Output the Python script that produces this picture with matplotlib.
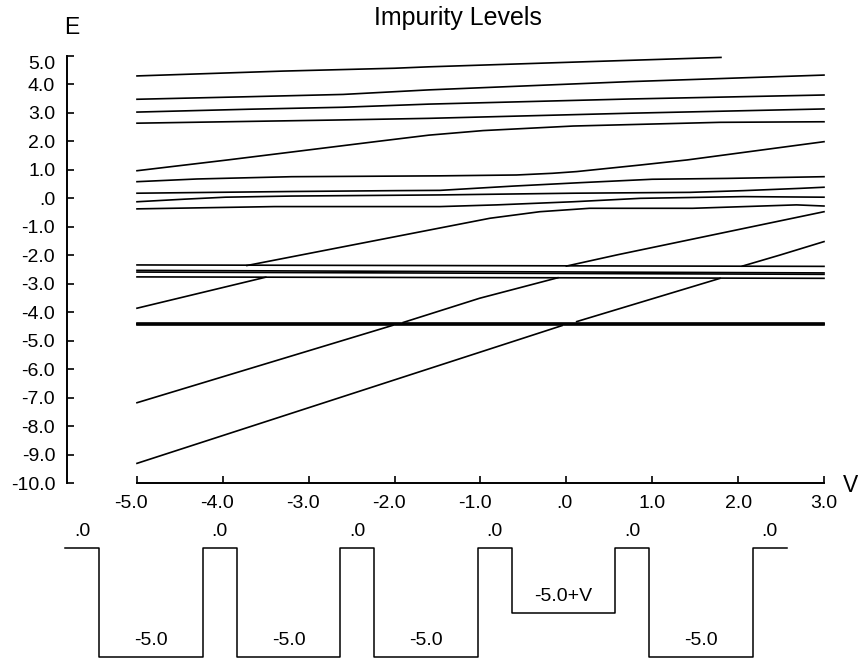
import numpy as np
import matplotlib
matplotlib.use("Agg")
import matplotlib.pyplot as plt
from matplotlib.ticker import FuncFormatter
from matplotlib.transforms import ScaledTranslation

plt.rcParams['font.family'] = ['Liberation Sans', 'DejaVu Sans']

# impurity levels E(V) (V, E)
lvl_a_v = [-5.0, -3.3, -2.0, -1.6, 0.24, 1.8]
lvl_a_e = [4.30, 4.47, 4.57, 4.62, 4.80, 4.95]
lvl_b_v = [-5.0, -3.7, -2.6, -1.6, 0.74, 3.0]
lvl_b_e = [3.48, 3.57, 3.65, 3.81, 4.10, 4.33]
lvl_c_v = [-5.0, -3.7, -2.6, -1.6, 0.74, 3.0]
lvl_c_e = [3.03, 3.13, 3.20, 3.31, 3.49, 3.63]
lvl_d_v = [-5.0, -2.7, -1.6, 0.74, 3.0]
lvl_d_e = [2.64, 2.75, 2.81, 2.99, 3.14]
lvl_r1_v = [-5.0, -3.94, -2.2, -1.6, -0.97, 0.08, 1.79, 3.0]
lvl_r1_e = [0.97, 1.35, 2.0, 2.22, 2.38, 2.54, 2.67, 2.69]

lvl_e1_v = [-5.0, -4.3, -3.2, -1.47, -0.58, -0.16, 0.12, 0.86, 1.41, 3.0]
lvl_e1_e = [0.585, 0.68, 0.76, 0.79, 0.82, 0.88, 0.94, 1.17, 1.35, 1.99]
lvl_e2_v = [-5.0, -3.2, -2.0, -1.47, -0.62, 0.16, 1.0, 1.87, 3.0]
lvl_e2_e = [0.18, 0.24, 0.27, 0.28, 0.43, 0.55, 0.67, 0.70, 0.76]
lvl_e3_v = [-5.0, -4.45, -3.97, -3.2, -1.47, 0.08, 1.44, 2.06, 2.72, 3.0]
lvl_e3_e = [-0.12, -0.03, 0.04, 0.08, 0.12, 0.18, 0.21, 0.27, 0.35, 0.39]
lvl_e4_v = [-5.0, -3.4, -1.47, -0.81, 0.08, 0.86, 2.06, 3.0]
lvl_e4_e = [-0.37, -0.29, -0.29, -0.23, -0.12, 0.0, 0.06, 0.04]

# band near -2.6
band2_v = [-5.0, 3.0]
band2_e = [[-2.34, -2.39], [-2.53, -2.62], [-2.59, -2.67], [-2.76, -2.81]]
# band near -4.4
band1_v = [-5.0, 3.0]
band1_e = [[-4.37, -4.37], [-4.40, -4.40], [-4.43, -4.43], [-4.46, -4.46]]

# rising levels of the shifted well, split where they pass the bands
r3_low_v = [-5.0, -3.5]
r3_low_e = [-3.86, -2.77]
r3_up_v = [-3.72, -0.89, -0.31, 0.27, 1.47, 2.68, 3.0]
r3_up_e = [-2.36, -0.70, -0.47, -0.35, -0.35, -0.23, -0.27]
r4_low_v = [-5.0, -2.02]
r4_low_e = [-7.18, -4.46]
r4_mid_v = [-1.9, -1.01, -0.1]
r4_mid_e = [-4.36, -3.51, -2.79]
r4_up_v = [0.0, 0.6, 3.0]
r4_up_e = [-2.38, -1.98, -0.47]
r5_low_v = [-5.0, -0.05]
r5_low_e = [-9.31, -4.47]
r5_mid_v = [0.12, 1.79]
r5_mid_e = [-4.33, -2.81]
r5_up_v = [2.05, 2.49, 3.0]
r5_up_e = [-2.38, -1.99, -1.52]

curves = [
    (lvl_a_v, lvl_a_e), (lvl_b_v, lvl_b_e), (lvl_c_v, lvl_c_e),
    (lvl_d_v, lvl_d_e), (lvl_r1_v, lvl_r1_e),
    (lvl_e1_v, lvl_e1_e), (lvl_e2_v, lvl_e2_e),
    (lvl_e3_v, lvl_e3_e), (lvl_e4_v, lvl_e4_e),
    (r3_low_v, r3_low_e), (r3_up_v, r3_up_e),
    (r4_low_v, r4_low_e), (r4_mid_v, r4_mid_e), (r4_up_v, r4_up_e),
    (r5_low_v, r5_low_e), (r5_mid_v, r5_mid_e), (r5_up_v, r5_up_e),
]
curves += [(band2_v, e) for e in band2_e]
curves += [(band1_v, e) for e in band1_e]

y_ticks = np.arange(-10, 6, 1)
x_ticks = np.arange(-5, 4, 1)

# potential sketch below the chart
barrier_level = 0.0
v_sketch = 2.0
well_levels = [-5.0, -5.0, -5.0, -5.0 + v_sketch, -5.0]
well_labels = ['-5.0', '-5.0', '-5.0', '-5.0+V', '-5.0']
barrier_w = 1.0
well_w = 3.0


def fmt(v, pos):
    s = f"{v:.1f}"
    if s in ("0.0", "-0.0"):
        return ".0"
    return s


def nudge(lab, dx, dy):
    lab.set_transform(lab.get_transform()
                      + ScaledTranslation(dx / 100, dy / 100, fig.dpi_scale_trans))


fig = plt.figure(figsize=(8.58, 6.59), dpi=100)
ax = fig.add_axes([67 / 858, 176 / 659, 757 / 858, 427 / 659])

for v, e in curves:
    ax.plot(v, e, color='black', lw=1.2, clip_on=False)

ax.set_xlim(-5.815, 3.0)
ax.set_ylim(-10, 5)
ax.spines['top'].set_visible(False)
ax.spines['right'].set_visible(False)
ax.spines['left'].set_linewidth(1.4)
ax.spines['bottom'].set_linewidth(1.4)
ax.spines['bottom'].set_bounds(-5, 3)
ax.set_xticks(x_ticks)
ax.set_yticks(y_ticks)
ax.xaxis.set_major_formatter(FuncFormatter(fmt))
ax.yaxis.set_major_formatter(FuncFormatter(fmt))
ax.tick_params(axis='both', direction='in', labelsize=14, pad=8.5,
               width=1.2, length=5)

# labels in the original sit a little off their ticks
for val, lab in zip(y_ticks, ax.get_yticklabels()):
    if val == y_ticks.max():
        nudge(lab, 0, -6)
for val, lab in zip(x_ticks, ax.get_xticklabels()):
    nudge(lab, -6 if val < 0 else (-2 if val == 0 else 0), 0)

fig.text(458 / 858, 1 - 18 / 659, 'Impurity Levels', ha='center', va='center',
         fontsize=18)
fig.text(72 / 858, 1 - 28 / 659, 'E', ha='center', va='center', fontsize=16.5)
fig.text(851 / 858, 1 - 485 / 659, 'V', ha='center', va='center', fontsize=16.5)

# potential profile
pax = fig.add_axes([65 / 858, 0, 722 / 858, 139 / 659])
xs = [0.0]
ys = [barrier_level]
x = 0.0
for lvl in well_levels:
    x += barrier_w
    xs += [x, x]
    ys += [barrier_level, lvl]
    x += well_w
    xs += [x, x]
    ys += [lvl, barrier_level]
x += barrier_w
xs.append(x)
ys.append(barrier_level)
pax.plot(xs, ys, color='black', lw=1.1, clip_on=False)

for i in range(len(well_levels) + 1):
    bx = barrier_w / 2 + i * (barrier_w + well_w)
    pax.text(bx, barrier_level + 0.75, '.0', ha='center', va='center',
             fontsize=14)
for i, (lvl, lab) in enumerate(zip(well_levels, well_labels)):
    wx = barrier_w + well_w / 2 + i * (barrier_w + well_w)
    pax.text(wx, lvl + 0.76, lab, ha='center', va='center', fontsize=14)

pax.set_xlim(0, x)
pax.set_ylim(-5.092, 1.284)
pax.axis('off')

plt.savefig('out.png', dpi=100)
